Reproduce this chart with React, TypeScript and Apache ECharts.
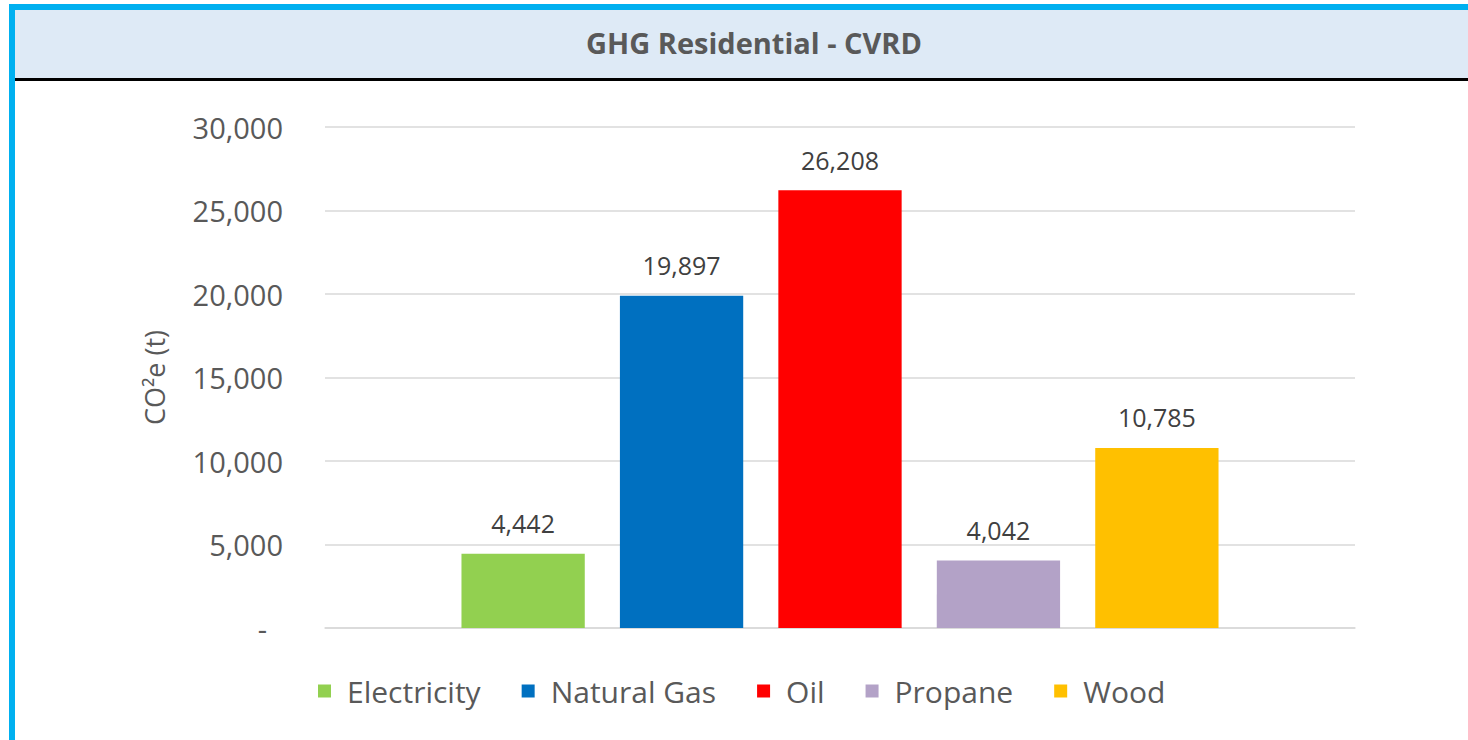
import React, { useEffect, useRef } from "react";
import * as echarts from "echarts";

const title = "GHG Residential - CVRD";
const seriesNames = ["Electricity", "Natural Gas", "Oil", "Propane", "Wood"];
const seriesValues = [4442, 19897, 26208, 4042, 10785];
const seriesColors = ["#92D050", "#0070C0", "#FF0000", "#B3A2C7", "#FFC000"];
const categories = [""];
const yMin = 0;
const yMax = 30000;
const yInterval = 5000;
const yName = "CO²e (t)";

const FONT = "'Open Sans', 'Noto Sans', sans-serif";

export default function App() {
  const ref = useRef<HTMLDivElement>(null);
  useEffect(() => {
    if (!ref.current) return;
    const chart = echarts.init(ref.current, undefined, { renderer: "svg" });
    const fmt = (v: number) => v.toLocaleString("en-US");
    chart.setOption({
      animation: false,
      backgroundColor: "#FFFFFF",
      textStyle: { fontFamily: FONT },
      graphic: [
        { type: "rect", shape: { x: 15, y: 10, width: 1453, height: 68 }, style: { fill: "#DEEAF6" } },
        { type: "rect", shape: { x: 15, y: 78, width: 1453, height: 3 }, style: { fill: "#000000" } },
        { type: "rect", shape: { x: 9, y: 4, width: 1459, height: 6 }, style: { fill: "#00B0F0" } },
        { type: "rect", shape: { x: 9, y: 4, width: 6, height: 736 }, style: { fill: "#00B0F0" } },
        {
          type: "text",
          x: 754,
          y: 42,
          style: {
            text: title,
            fontFamily: FONT,
            fontWeight: "bold",
            fontSize: 29,
            fill: "#595959",
            align: "center",
            verticalAlign: "middle",
          },
        },
      ],
      grid: { left: 325, right: 113, top: 127, bottom: 112, containLabel: false },
      legend: {
        data: seriesNames,
        top: 671,
        left: 313,
        icon: "rect",
        itemWidth: 13,
        itemHeight: 13,
        itemGap: 41,
        textStyle: {
          fontFamily: FONT,
          fontSize: 30,
          color: "#595959",
          lineHeight: 30,
          padding: [0, 0, 0, 11],
        },
      },
      xAxis: {
        type: "category",
        data: categories,
        axisLine: { show: true, lineStyle: { color: "#D9D9D9", width: 1.5 } },
        axisTick: { show: false },
        axisLabel: { show: false },
      },
      yAxis: {
        type: "value",
        min: yMin,
        max: yMax,
        interval: yInterval,
        name: yName,
        nameLocation: "middle",
        nameGap: 157,
        nameRotate: 90,
        nameTextStyle: { fontFamily: FONT, fontSize: 27, color: "#595959" },
        axisLine: { show: false },
        axisTick: { show: false },
        axisLabel: {
          margin: 42,
          fontFamily: FONT,
          fontSize: 29,
          color: "#595959",
          formatter: (v: number) => (v === 0 ? "{d|-}" : fmt(v)),
          rich: {
            d: { fontFamily: FONT, fontSize: 29, color: "#595959", padding: [0, 16, 0, 0] },
          },
        },
        splitLine: { lineStyle: { color: "#D9D9D9", width: 1.5 } },
      },
      series: seriesNames.map((name, i) => ({
        name,
        type: "bar",
        data: [seriesValues[i]],
        itemStyle: { color: seriesColors[i] },
        barGap: "28.5%",
        barCategoryGap: "26.5%",
        label: {
          show: true,
          position: "top",
          distance: 18,
          fontFamily: FONT,
          fontSize: 25,
          color: "#404040",
          formatter: (p: any) => fmt(p.value),
        },
      })),
    });
    return () => chart.dispose();
  }, []);
  return (
    <div
      ref={ref}
      style={{ position: "absolute", left: 0, top: 0, width: 1468, height: 740 }}
    />
  );
}
